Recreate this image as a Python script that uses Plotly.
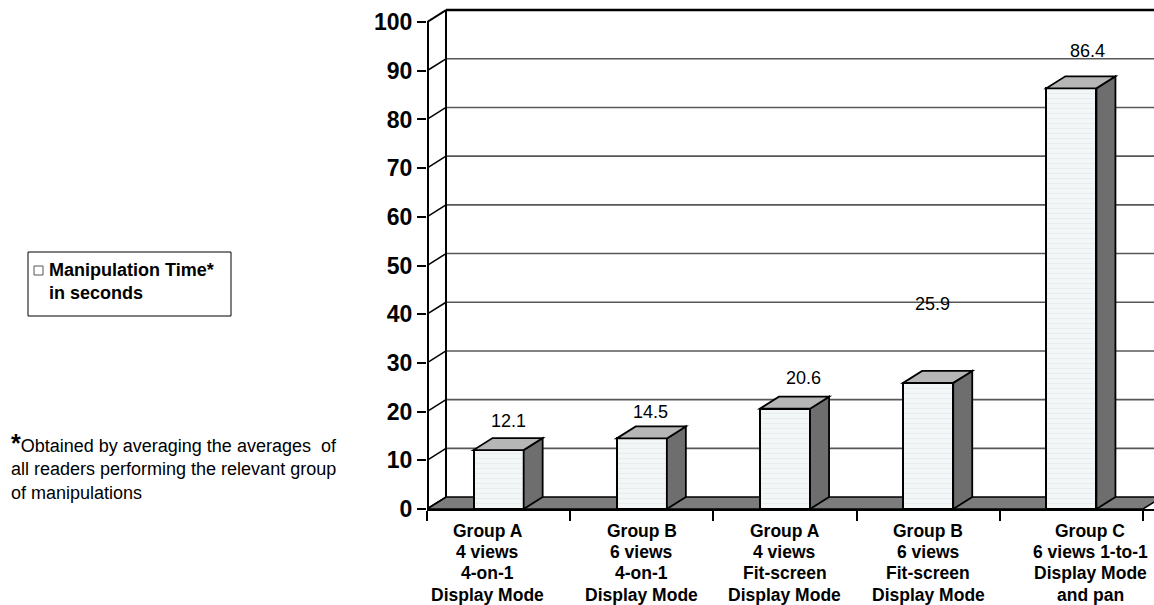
import plotly.graph_objects as go

# ---- data -------------------------------------------------------------
categories = [
    "Group A<br>4 views<br>4-on-1<br>Display Mode",
    "Group B<br>6 views<br>4-on-1<br>Display Mode",
    "Group A<br>4 views<br>Fit-screen<br>Display Mode",
    "Group B<br>6 views<br>Fit-screen<br>Display Mode",
    "Group C<br>6 views 1-to-1<br>Display Mode<br>and pan",
]
manipulation_time = [12.1, 14.5, 20.6, 25.9, 86.4]
y_ticks = [0, 10, 20, 30, 40, 50, 60, 70, 80, 90, 100]
series_name = "Manipulation Time*<br>in seconds"
footnote = ("<b><span style='font-size:25px'>*</span></b>Obtained by averaging the averages\u00a0 of"
            "<br>all readers performing the relevant group<br>of manipulations")

# ---- styling ----------------------------------------------------------
FONT = "Arial, Liberation Sans, sans-serif"
W, H = 1154, 605
ML, MR, MT, MB = 427, 0, 6, 96
PLOT_W = W - ML - MR
PLOT_H = H - MT - MB
BAR_W = 0.35          # front face width, in category units
DX = 0.1327           # 3-D depth, horizontal (category units)
DY = 2.46             # 3-D depth, vertical (value units)
X_RANGE = [-0.5, 4.577]
Y_RANGE = [0, 103.3]

FRONT_FILL = "#f3f7f8"
TOP_FILL = "#b6b6b6"
SIDE_FILL = "#6e6e6e"
FLOOR_FILL = "#7c7c7c"
GRID = "#575757"

# per-label nudges of the value labels (pixels) and category label offsets
value_lift = [17, 14, 19, 67, 25]
value_dx = [0, -1, 9, -5, 7]
cat_dx = [-11, 0, 0, 0, 19]


def px_x(px):
    return (px - ML) / PLOT_W


def px_y(py):
    return (MT + PLOT_H - py) / PLOT_H


def poly(pts):
    return "M " + " L ".join(f"{x},{y}" for x, y in pts) + " Z"


xpos = list(range(len(categories)))
n = len(categories)

fig = go.Figure()
fig.add_trace(go.Bar(
    x=xpos, y=manipulation_time, width=BAR_W,
    marker=dict(
        color=FRONT_FILL,
        line=dict(color="black", width=2),
        pattern=dict(shape="-", fgcolor="#dde4e8", bgcolor=FRONT_FILL, size=5, solidity=0.25),
    ),
    showlegend=False, hoverinfo="skip",
))

shapes = []
left, back_left = X_RANGE[0], X_RANGE[0] + DX
right_end = n - 0.5

# floor
shapes.append(dict(type="path", xref="x", yref="y", layer="below",
                   path=poly([(left, 0), (right_end, 0), (right_end + DX, DY), (back_left, DY)]),
                   fillcolor=FLOOR_FILL, line=dict(color="black", width=1.5)))
# back-wall gridlines and side-wall diagonals
for v in y_ticks[1:]:
    top = v == y_ticks[-1]
    shapes.append(dict(type="line", xref="x", yref="y", layer="below",
                       x0=back_left, x1=X_RANGE[1] + 1, y0=v + DY, y1=v + DY,
                       line=dict(color="black" if top else GRID, width=2.5 if top else 1.6)))
for v in y_ticks:
    shapes.append(dict(type="line", xref="x", yref="y", layer="below",
                       x0=left, x1=back_left, y0=v, y1=v + DY,
                       line=dict(color="black", width=2 if v == y_ticks[-1] else 1.5)))
shapes.append(dict(type="line", xref="x", yref="y", layer="below",
                   x0=back_left, x1=back_left, y0=DY, y1=y_ticks[-1] + DY,
                   line=dict(color="black", width=2)))
# front value axis
shapes.append(dict(type="line", xref="x", yref="y", layer="above",
                   x0=left, x1=left, y0=0, y1=y_ticks[-1],
                   line=dict(color="black", width=4)))

# 3-D top and side faces of each bar
hw = BAR_W / 2
for i, v in zip(xpos, manipulation_time):
    shapes.append(dict(type="path", xref="x", yref="y", layer="above",
                       path=poly([(i + hw, 0), (i + hw + DX, DY), (i + hw + DX, v + DY), (i + hw, v)]),
                       fillcolor=SIDE_FILL, line=dict(color="black", width=1.8)))
    shapes.append(dict(type="path", xref="x", yref="y", layer="above",
                       path=poly([(i - hw, v), (i + hw, v), (i + hw + DX, v + DY), (i - hw + DX, v + DY)]),
                       fillcolor=TOP_FILL, line=dict(color="black", width=1.8)))

# legend box
shapes.append(dict(type="rect", xref="paper", yref="paper",
                   x0=px_x(28), x1=px_x(231), y0=px_y(316), y1=px_y(252),
                   line=dict(color="black", width=1), fillcolor="white"))
shapes.append(dict(type="rect", xref="paper", yref="paper",
                   x0=px_x(34), x1=px_x(43), y0=px_y(275), y1=px_y(266),
                   line=dict(color="#555555", width=1), fillcolor="white"))

annotations = []
for i, v in zip(xpos, manipulation_time):
    annotations.append(dict(x=i + DX / 2, y=v + DY, xref="x", yref="y", text=f"{v}",
                            showarrow=False, yanchor="middle", xanchor="center",
                            xshift=value_dx[i], yshift=value_lift[i],
                            font=dict(family=FONT, size=18, color="black")))
for i, label in enumerate(categories):
    for k, line in enumerate(label.split("<br>")):
        annotations.append(dict(x=i, y=0, xref="x", yref="paper", text=line,
                                showarrow=False, xanchor="center", yanchor="middle",
                                xshift=cat_dx[i], yshift=-(22 + 21.2 * k),
                                font=dict(family=FONT, size=17.5, color="black", weight="bold")))
annotations.append(dict(x=px_x(47), y=px_y(281.5), xref="paper", yref="paper",
                        text=series_name, showarrow=False, xanchor="left", yanchor="middle",
                        align="left", font=dict(family=FONT, size=18, color="black", weight="bold")))
annotations.append(dict(x=px_x(9), y=px_y(466), xref="paper", yref="paper",
                        text=footnote, showarrow=False, xanchor="left", yanchor="middle",
                        align="left", font=dict(family=FONT, size=18, color="black")))

fig.update_layout(
    width=W, height=H,
    margin=dict(l=ML, r=MR, t=MT, b=MB, pad=0),
    paper_bgcolor="white", plot_bgcolor="white",
    showlegend=False, bargap=0,
    shapes=shapes, annotations=annotations,
    xaxis=dict(range=X_RANGE, tickmode="array",
               tickvals=[c - 0.5 for c in range(n + 1)],
               ticks="outside", ticklen=10, tickwidth=2, tickcolor="black",
               showticklabels=False, showgrid=False, zeroline=False,
               showline=True, linecolor="black", linewidth=2, fixedrange=True),
    yaxis=dict(range=Y_RANGE, tickmode="array", tickvals=y_ticks,
               ticktext=[str(t) for t in y_ticks],
               ticks="outside", ticklen=9, tickwidth=2, tickcolor="black",
               tickfont=dict(family=FONT, size=23, color="black", weight="bold"),
               showgrid=False, zeroline=False, showline=False, fixedrange=True),
)

fig.write_html("out.html", include_plotlyjs=True, config={"displayModeBar": False})
